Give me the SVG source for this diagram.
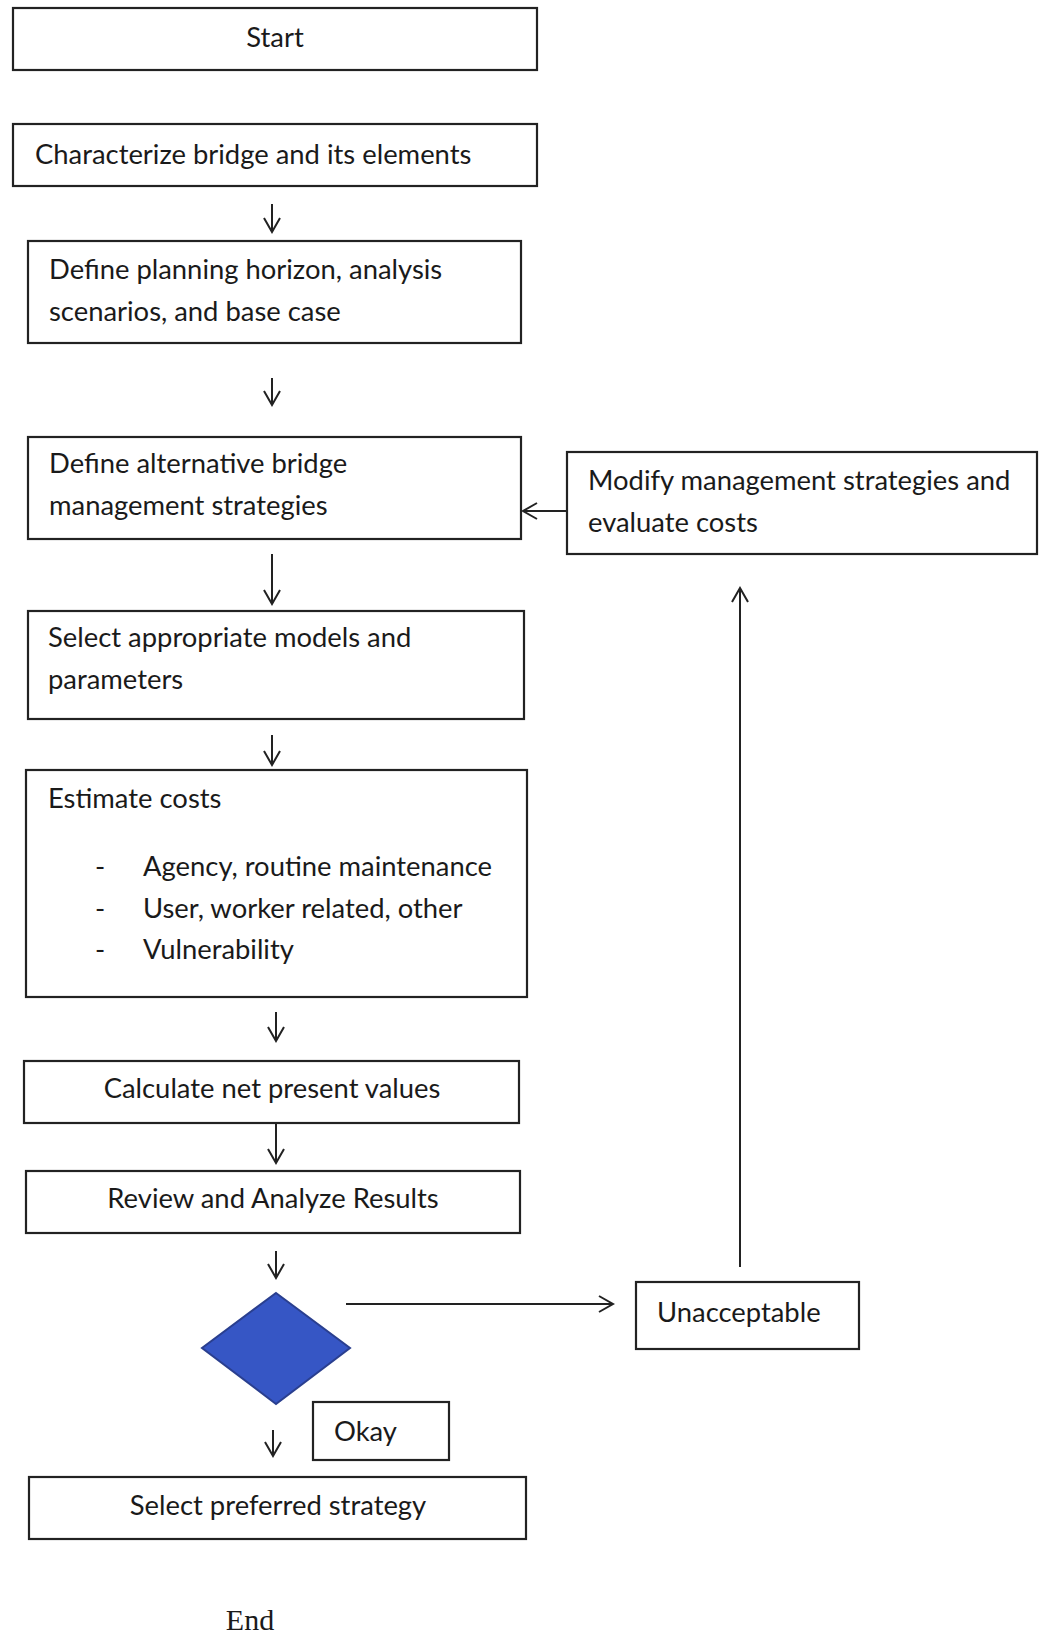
<svg xmlns="http://www.w3.org/2000/svg" width="1046" height="1638" viewBox="0 0 1046 1638">
<style>
.box{fill:#fff;stroke:#222;stroke-width:2.2}
.t{font-family:Lato,"Liberation Sans",sans-serif;font-size:27.4px;fill:#1a1a1a}
.c{text-anchor:middle}
.ln{stroke:#222;stroke-width:2;fill:none}
</style>
<defs>
<marker id="ah" viewBox="0 0 20 20" refX="18" refY="10" markerWidth="20" markerHeight="20" markerUnits="userSpaceOnUse" orient="auto">
<polyline points="4,2 18,10 4,18" fill="none" stroke="#222" stroke-width="2"/>
</marker>
</defs>
<rect width="1046" height="1638" fill="#fff"/>
<g id="start"><rect class="box" x="13" y="8" width="524" height="62"/><text class="t c" x="275" y="47">Start</text></g>
<g id="characterize"><rect class="box" x="13" y="124" width="524" height="62"/><text class="t" x="35" y="164">Characterize bridge and its elements</text></g>
<g id="define-planning"><rect class="box" x="28" y="241" width="493" height="102"/><text class="t" x="49" y="279">Define planning horizon, analysis</text><text class="t" x="49" y="321">scenarios, and base case</text></g>
<g id="define-alternative"><rect class="box" x="28" y="437" width="493" height="102"/><text class="t" x="49" y="473">Define alternative bridge</text><text class="t" x="49" y="515">management strategies</text></g>
<g id="modify"><rect class="box" x="567" y="452" width="470" height="102"/><text class="t" x="588" y="490">Modify management strategies and</text><text class="t" x="588" y="532">evaluate costs</text></g>
<g id="select-models"><rect class="box" x="28" y="611" width="496" height="108"/><text class="t" x="48" y="647">Select appropriate models and</text><text class="t" x="48" y="689">parameters</text></g>
<g id="estimate"><rect class="box" x="26" y="770" width="501" height="227"/><text class="t" x="48" y="808">Estimate costs</text>
<text class="t" x="95" y="876">-</text><text class="t" x="143" y="876">Agency, routine maintenance</text>
<text class="t" x="95" y="918">-</text><text class="t" x="143" y="918">User, worker related, other</text>
<text class="t" x="95" y="959">-</text><text class="t" x="143" y="959">Vulnerability</text></g>
<g id="calculate"><rect class="box" x="24" y="1061" width="495" height="62"/><text class="t c" x="272" y="1098">Calculate net present values</text></g>
<g id="review"><rect class="box" x="26" y="1171" width="494" height="62"/><text class="t c" x="273" y="1208">Review and Analyze Results</text></g>
<g id="decision"><polygon points="276,1293 350,1348 276,1404 202,1348" fill="#3656c5" stroke="#2a3f8f" stroke-width="2"/></g>
<g id="unacceptable"><rect class="box" x="636" y="1282" width="223" height="67"/><text class="t" x="657" y="1322">Unacceptable</text></g>
<g id="okay"><rect class="box" x="313" y="1402" width="136" height="58"/><text class="t" x="334" y="1441">Okay</text></g>
<g id="select-preferred"><rect class="box" x="29" y="1477" width="497" height="62"/><text class="t c" x="278" y="1515">Select preferred strategy</text></g>
<g id="end"><text x="250" y="1630" text-anchor="middle" font-family="Liberation Serif,serif" font-size="30" fill="#1a1a1a">End</text></g>
<g id="connectors">
<line class="ln" x1="272" y1="204" x2="272" y2="232" marker-end="url(#ah)"/>
<line class="ln" x1="272" y1="378" x2="272" y2="405" marker-end="url(#ah)"/>
<line class="ln" x1="567" y1="511" x2="523" y2="511" marker-end="url(#ah)"/>
<line class="ln" x1="272" y1="554" x2="272" y2="604" marker-end="url(#ah)"/>
<line class="ln" x1="272" y1="735" x2="272" y2="765" marker-end="url(#ah)"/>
<line class="ln" x1="276" y1="1012" x2="276" y2="1041" marker-end="url(#ah)"/>
<line class="ln" x1="276" y1="1124" x2="276" y2="1163" marker-end="url(#ah)"/>
<line class="ln" x1="276" y1="1251" x2="276" y2="1278" marker-end="url(#ah)"/>
<line class="ln" x1="346" y1="1304" x2="613" y2="1304" marker-end="url(#ah)"/>
<line class="ln" x1="740" y1="1267" x2="740" y2="588" marker-end="url(#ah)"/>
<line class="ln" x1="273" y1="1430" x2="273" y2="1456" marker-end="url(#ah)"/>
</g>
</svg>
